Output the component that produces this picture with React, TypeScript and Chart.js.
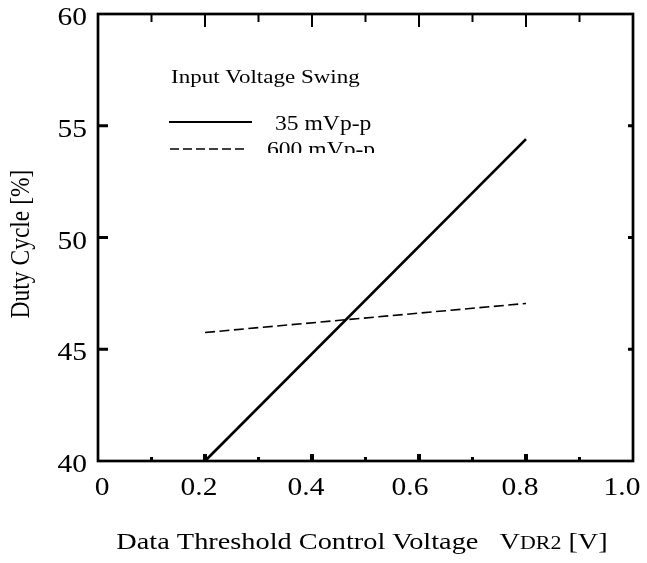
import React, { useEffect, useRef } from "react";
import { Chart, registerables } from "chart.js";

Chart.register(...registerables);

// ---- data ----
const solidX = [0.2, 0.8];
const solidY = [40, 54.4];
const dashedX = [0.2, 0.8];
const dashedY = [45.75, 47.05];
const seriesLabels = ["35 mVp-p", "600 mVp-p"];
const legendTitle = "Input Voltage Swing";
const yTitle = "Duty Cycle [%]";
const xTickValues = [0, 0.2, 0.4, 0.6, 0.8, 1.0];
const xTickLabels = ["0", "0.2", "0.4", "0.6", "0.8", "1.0"];
const xMinorTicks = [0.1, 0.2, 0.3, 0.4, 0.5, 0.6, 0.7, 0.8, 0.9];
const yTickValues = [40, 45, 50, 55, 60];
const yTickLabels = ["40", "45", "50", "55", "60"];
const yInnerTicks = [45, 50, 55];

const FONT = "'Liberation Serif', 'Times New Roman', serif";
const STRETCH = 1.18; // reference text is horizontally stretched
const X_LABEL_SHIFT = [4, -6, -6, -9, -6, -11];

function stretchText(ctx: any, text: string, x: number, y: number, size: number, align: string) {
  ctx.save();
  ctx.font = `${size}px ${FONT}`;
  ctx.textAlign = align;
  ctx.textBaseline = "alphabetic";
  ctx.translate(x, y);
  ctx.scale(STRETCH, 1);
  ctx.fillText(text, 0, 0);
  ctx.restore();
}

const frameTicks = {
  id: "frameTicks",
  afterDraw(chart: any) {
    const { ctx, chartArea: a, scales } = chart;
    const xs = scales.x;
    const ys = scales.y;
    ctx.save();
    ctx.strokeStyle = "#000";
    ctx.lineWidth = 2.7;
    ctx.strokeRect(a.left, a.top, a.right - a.left, a.bottom - a.top);
    ctx.lineCap = "butt";
    xMinorTicks.forEach((v) => {
      const px = xs.getPixelForValue(v);
      const major = Math.round(v * 10) % 2 === 0;
      ctx.lineWidth = major ? 4 : 3;
      ctx.beginPath();
      ctx.moveTo(px, a.bottom);
      ctx.lineTo(px, a.bottom - (major ? 7 : 4));
      ctx.stroke();
      ctx.lineWidth = 2;
      ctx.beginPath();
      ctx.moveTo(px, a.top);
      ctx.lineTo(px, a.top + (major ? 13 : 8));
      ctx.stroke();
    });
    yInnerTicks.forEach((v) => {
      const py = ys.getPixelForValue(v);
      ctx.lineWidth = 3;
      ctx.beginPath();
      ctx.moveTo(a.left, py);
      ctx.lineTo(a.left + 10, py);
      ctx.stroke();
      ctx.beginPath();
      ctx.moveTo(a.right, py);
      ctx.lineTo(a.right - 5, py);
      ctx.stroke();
    });
    ctx.restore();
  },
};

const customText = {
  id: "customText",
  afterDraw(chart: any) {
    const { ctx, scales } = chart;
    const xs = scales.x;
    const ys = scales.y;
    ctx.save();
    ctx.fillStyle = "#000";
    ctx.strokeStyle = "#000";

    // tick labels
    yTickValues.forEach((v, i) => {
      const py = ys.getPixelForValue(v);
      stretchText(ctx, yTickLabels[i], 87, py + 11, 25, "right");
    });
    xTickValues.forEach((v, i) => {
      const px = xs.getPixelForValue(v);
      stretchText(ctx, xTickLabels[i], px + X_LABEL_SHIFT[i], 495, 25, "center");
    });

    // legend
    stretchText(ctx, legendTitle, 171, 83, 19.5, "left");
    ctx.lineWidth = 2;
    ctx.beginPath();
    ctx.moveTo(169, 122);
    ctx.lineTo(252, 122);
    ctx.stroke();
    stretchText(ctx, seriesLabels[0], 275, 130, 20, "left");
    ctx.lineWidth = 1.6;
    ctx.setLineDash([9, 4]);
    ctx.beginPath();
    ctx.moveTo(170, 149);
    ctx.lineTo(247, 149);
    ctx.stroke();
    ctx.setLineDash([]);
    ctx.save();
    ctx.beginPath();
    ctx.rect(260, 135, 150, 18);
    ctx.clip();
    stretchText(ctx, seriesLabels[1], 267, 156, 20, "left");
    ctx.restore();

    // y title (rotated; stretch applies to glyph height)
    ctx.save();
    ctx.font = `23.5px ${FONT}`;
    ctx.textAlign = "center";
    ctx.textBaseline = "middle";
    ctx.translate(22, 244);
    ctx.scale(STRETCH, 1);
    ctx.rotate(-Math.PI / 2);
    ctx.fillText(yTitle, 0, 0);
    ctx.restore();

    // x title with small caps "DR2"
    const y = 549;
    const parts: [string, number][] = [
      ["Data Threshold Control Voltage", 24],
      ["   ", 24],
      ["V", 24],
      ["DR2", 18.5],
      [" [V]", 24],
    ];
    let total = 0;
    parts.forEach(([t, s]) => {
      ctx.font = `${s}px ${FONT}`;
      total += ctx.measureText(t).width * STRETCH;
    });
    let x = 362 - total / 2;
    parts.forEach(([t, s]) => {
      stretchText(ctx, t, x, y, s, "left");
      ctx.font = `${s}px ${FONT}`;
      x += ctx.measureText(t).width * STRETCH;
    });
    ctx.restore();
  },
};

export default function App() {
  const ref = useRef<HTMLCanvasElement>(null);
  useEffect(() => {
    if (!ref.current) return;
    const chart = new Chart(ref.current, {
      type: "scatter",
      data: {
        datasets: [
          {
            label: seriesLabels[0],
            data: solidX.map((x, i) => ({ x, y: solidY[i] })),
            showLine: true,
            borderColor: "#000",
            borderWidth: 2.7,
            pointRadius: 0,
          },
          {
            label: seriesLabels[1],
            data: dashedX.map((x, i) => ({ x, y: dashedY[i] })),
            showLine: true,
            borderColor: "#000",
            borderWidth: 1.6,
            borderDash: [10, 4.5],
            pointRadius: 0,
          },
        ],
      },
      options: {
        animation: false,
        responsive: false,
        events: [],
        layout: { padding: { top: 14, right: 14, left: 0, bottom: 0 } },
        plugins: { legend: { display: false }, tooltip: { enabled: false } },
        scales: {
          x: {
            type: "linear",
            min: 0,
            max: 1,
            afterFit: (s: any) => {
              s.height = 102;
              s.paddingLeft = 0;
              s.paddingRight = 0;
              s.paddingTop = 0;
              s.paddingBottom = 0;
            },
            ticks: { display: false },
            grid: { display: false, drawTicks: false },
            border: { display: false },
          },
          y: {
            type: "linear",
            min: 40,
            max: 60,
            afterFit: (s: any) => {
              s.width = 98;
              s.paddingLeft = 0;
              s.paddingRight = 0;
              s.paddingTop = 0;
              s.paddingBottom = 0;
            },
            ticks: { display: false },
            grid: { display: false, drawTicks: false },
            border: { display: false },
          },
        },
      },
      plugins: [frameTicks, customText],
    });
    return () => chart.destroy();
  }, []);
  return (
    <div style={{ position: "fixed", left: 0, top: 0, width: 647, height: 563, background: "#fff" }}>
      <canvas ref={ref} width={647} height={563} style={{ width: 647, height: 563 }} />
    </div>
  );
}
